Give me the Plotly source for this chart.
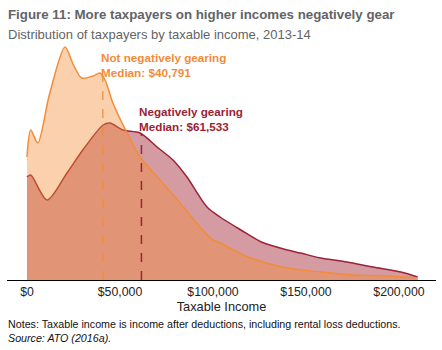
import numpy as np
import plotly.graph_objects as go

# Taxable income (thousand $) and relative density (arbitrary units)
not_neg_income = [0, 2, 5.8, 12, 20.4, 25, 29.4, 35.5, 39.2, 42, 46.2, 53.8, 60.8, 71.5, 82.3, 93, 100, 104,
                  118.8, 140, 158, 176, 194, 210]
not_neg_density = [123, 150, 137, 185, 233, 215, 202, 204, 207, 200, 177, 147, 123, 100, 77, 53, 40, 37,
                   23, 12, 8, 5, 4, 2]

neg_income = [0, 2, 10.8, 21.5, 30, 40.9, 44.6, 51.6, 60.8, 69.9, 78.5, 86, 96.8, 103.8, 115, 126,
              140, 147, 158, 172, 186, 201, 210]
neg_density = [103, 105, 80, 107, 130, 155, 157, 150, 147, 133, 120, 103, 73, 63, 50, 38,
               30, 27, 22, 18, 13, 8, 3]

median_not_neg = 40791
median_neg = 61533

tick_vals = [0, 50000, 100000, 150000, 200000]
tick_text = ["$0", "$50,000", "$100,000", "$150,000", "$200,000"]

ORANGE = "#F28C38"
RED = "#9B2335"

x_nn = np.array(not_neg_income) * 1000
x_n = np.array(neg_income) * 1000

fig = go.Figure()
fig.add_trace(go.Scatter(x=x_n, y=neg_density, mode="lines",
                         line=dict(color=RED, width=1.5, shape="spline", smoothing=0.8),
                         fill="tozeroy", fillcolor="rgba(160,34,50,0.45)", hoverinfo="skip"))
fig.add_trace(go.Scatter(x=x_nn, y=not_neg_density, mode="lines",
                         line=dict(color=ORANGE, width=1.5, shape="spline", smoothing=0.8),
                         fill="tozeroy", fillcolor="rgba(246,139,51,0.4)", hoverinfo="skip"))

h_nn = float(np.interp(median_not_neg / 1000, not_neg_income, not_neg_density))
h_n = float(np.interp(median_neg / 1000, neg_income, neg_density))
fig.add_trace(go.Scatter(x=[median_not_neg, median_not_neg], y=[0, h_nn], mode="lines",
                         line=dict(color=ORANGE, width=1.2, dash="dash"), hoverinfo="skip"))
fig.add_trace(go.Scatter(x=[median_neg, median_neg], y=[0, h_n], mode="lines",
                         line=dict(color=RED, width=1.5, dash="dash"), hoverinfo="skip"))

fig.update_layout(
    width=442, height=350, margin=dict(l=7, r=6, t=40, b=70),
    paper_bgcolor="white", plot_bgcolor="white", showlegend=False,
    font=dict(family="Liberation Sans, Arial", color="#222222"),
    xaxis=dict(range=[-10750, 219900], tickvals=tick_vals, ticktext=tick_text, showgrid=False, zeroline=False,
               showline=True, linecolor="#000000", linewidth=1, ticks="", tickfont=dict(size=12.3, color="#222222"),
               title=dict(text="Taxable Income", font=dict(size=12.8, color="#222222"), standoff=0)),
    yaxis=dict(range=[0, 240], visible=False),
)

fig.add_annotation(x=median_not_neg - 2000, y=215, xref="x", yref="y", xanchor="left", yanchor="middle",
                   text="<b>Not negatively gearing<br>Median: $40,791</b>", showarrow=False, align="left",
                   font=dict(family="Liberation Sans, Arial", size=11.7, color=ORANGE))
fig.add_annotation(x=median_neg - 2200, y=161, xref="x", yref="y", xanchor="left", yanchor="middle",
                   text="<b>Negatively gearing<br>Median: $61,533</b>", showarrow=False, align="left",
                   font=dict(family="Liberation Sans, Arial", size=11.7, color=RED))


def px_x(px):
    return (px - 7) / 429.0


def px_y(py):
    return (280 - py) / 240.0


fig.add_annotation(x=px_x(6), y=px_y(15), xref="paper", yref="paper",
                   text="<b>Figure 11: More taxpayers on higher incomes negatively gear</b>",
                   showarrow=False, xanchor="left", yanchor="middle", font=dict(size=13.3, color="#636466"))
fig.add_annotation(x=px_x(6), y=px_y(34), xref="paper", yref="paper",
                   text="Distribution of taxpayers by taxable income, 2013-14",
                   showarrow=False, xanchor="left", yanchor="middle", font=dict(size=13, color="#636466"))
fig.add_annotation(x=px_x(6), y=px_y(324), xref="paper", yref="paper",
                   text="Notes: Taxable income is income after deductions, including rental loss deductions.",
                   showarrow=False, xanchor="left", yanchor="middle", font=dict(size=10.7, color="#111111"))
fig.add_annotation(x=px_x(6), y=px_y(338), xref="paper", yref="paper", text="<i>Source: ATO (2016a).</i>",
                   showarrow=False, xanchor="left", yanchor="middle", font=dict(size=10.7, color="#111111"))

fig.write_html("out.html")
